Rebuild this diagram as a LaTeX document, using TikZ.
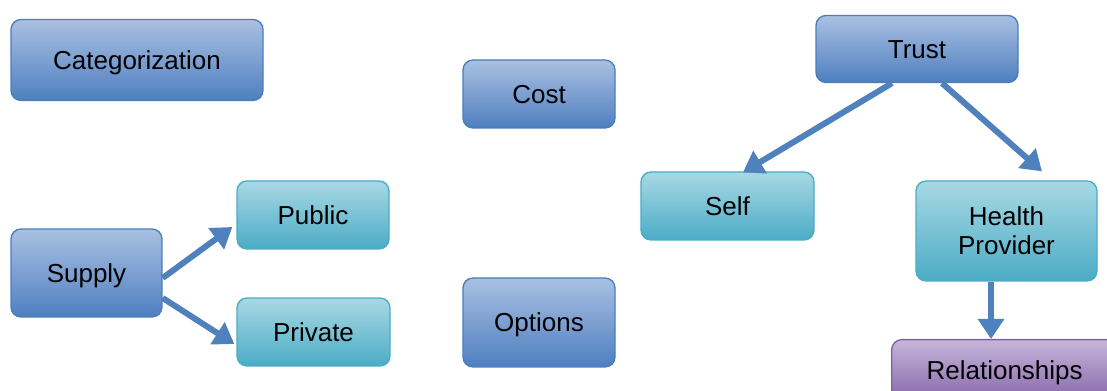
\documentclass[tikz,border=0pt]{standalone}
\usepackage{fontspec}
\setmainfont{Liberation Sans}
\usetikzlibrary{arrows.meta}
\definecolor{bTop}{HTML}{A9C0E2}
\definecolor{bBot}{HTML}{4F7FC0}
\definecolor{bLine}{HTML}{4A7EBB}
\definecolor{tTop}{HTML}{A8D8E4}
\definecolor{tBot}{HTML}{4BACC6}
\definecolor{tLine}{HTML}{4BACC6}
\definecolor{pTop}{HTML}{C6B6DA}
\definecolor{pBot}{HTML}{8666AA}
\definecolor{pLine}{HTML}{7F62A0}
\definecolor{arr}{HTML}{4F81BD}
\tikzset{
  boxbase/.style={rounded corners=7.5pt, line width=1pt, font=\fontsize{19.5}{22}\selectfont, align=center, inner sep=0pt, text height=17.65pt, text depth=4.13pt},
  bluebox/.style={boxbase, draw=bLine, top color=bTop, bottom color=bBot},
  tealbox/.style={boxbase, draw=tLine, top color=tTop, bottom color=tBot},
  purplebox/.style={boxbase, draw=pLine, top color=pTop, bottom color=pBot},
  conn/.style={draw=arr, line width=4.5pt, -{Triangle[width=19pt,length=15pt]}},
  sz/.style n args={2}{minimum width=#1*0.75pt, minimum height=#2*0.75pt}
}
\begin{document}
\begin{tikzpicture}[x=0.75pt,y=-0.75pt]
\useasboundingbox (0,0) rectangle (1107,391);
\clip (0,0) rectangle (1107,391);
\node[bluebox, sz={252}{81}] (cat) at (137,60) {Categorization};
\node[bluebox, sz={152}{68}] (cost) at (539,94) {Cost};
\node[bluebox, sz={202}{67}] (trust) at (917,49) {Trust};
\node[bluebox, sz={151}{88}] (supply) at (86.5,273) {Supply};
\node[tealbox, sz={152}{68}] (public) at (313,215) {Public};
\node[tealbox, sz={153}{68}] (private) at (313.5,332) {Private};
\node[bluebox, sz={152}{89}] (options) at (539,322.5) {Options};
\node[tealbox, sz={173}{68}] (self) at (727.5,206) {Self};
\node[tealbox, sz={181}{100}, text height=, text depth=] (health) at (1006.5,231) {Health\\Provider};
\node[purplebox, sz={234}{62}, anchor=north west, text width=228*0.75pt] (rel) at (891,339) {\hspace*{-6pt}Relationships};
\draw[conn] ([yshift=-3.75pt]supply.east) -- ([xshift=-3pt,yshift=-9pt]public.west);
\draw[conn] ([yshift=-18.75pt]supply.east) -- ([xshift=-1.5pt,yshift=-9pt]private.west);
\draw[conn] ([xshift=-18.75pt]trust.south) -- ([xshift=11.6pt,yshift=-0.75pt]self.north);
\draw[conn] ([xshift=18.75pt]trust.south) -- ([xshift=26.6pt,yshift=6.75pt]health.north);
\draw[conn] ([xshift=-11.6pt]health.south) -- ([xshift=-11.6pt]health.south |- rel.north);
\end{tikzpicture}
\end{document}
